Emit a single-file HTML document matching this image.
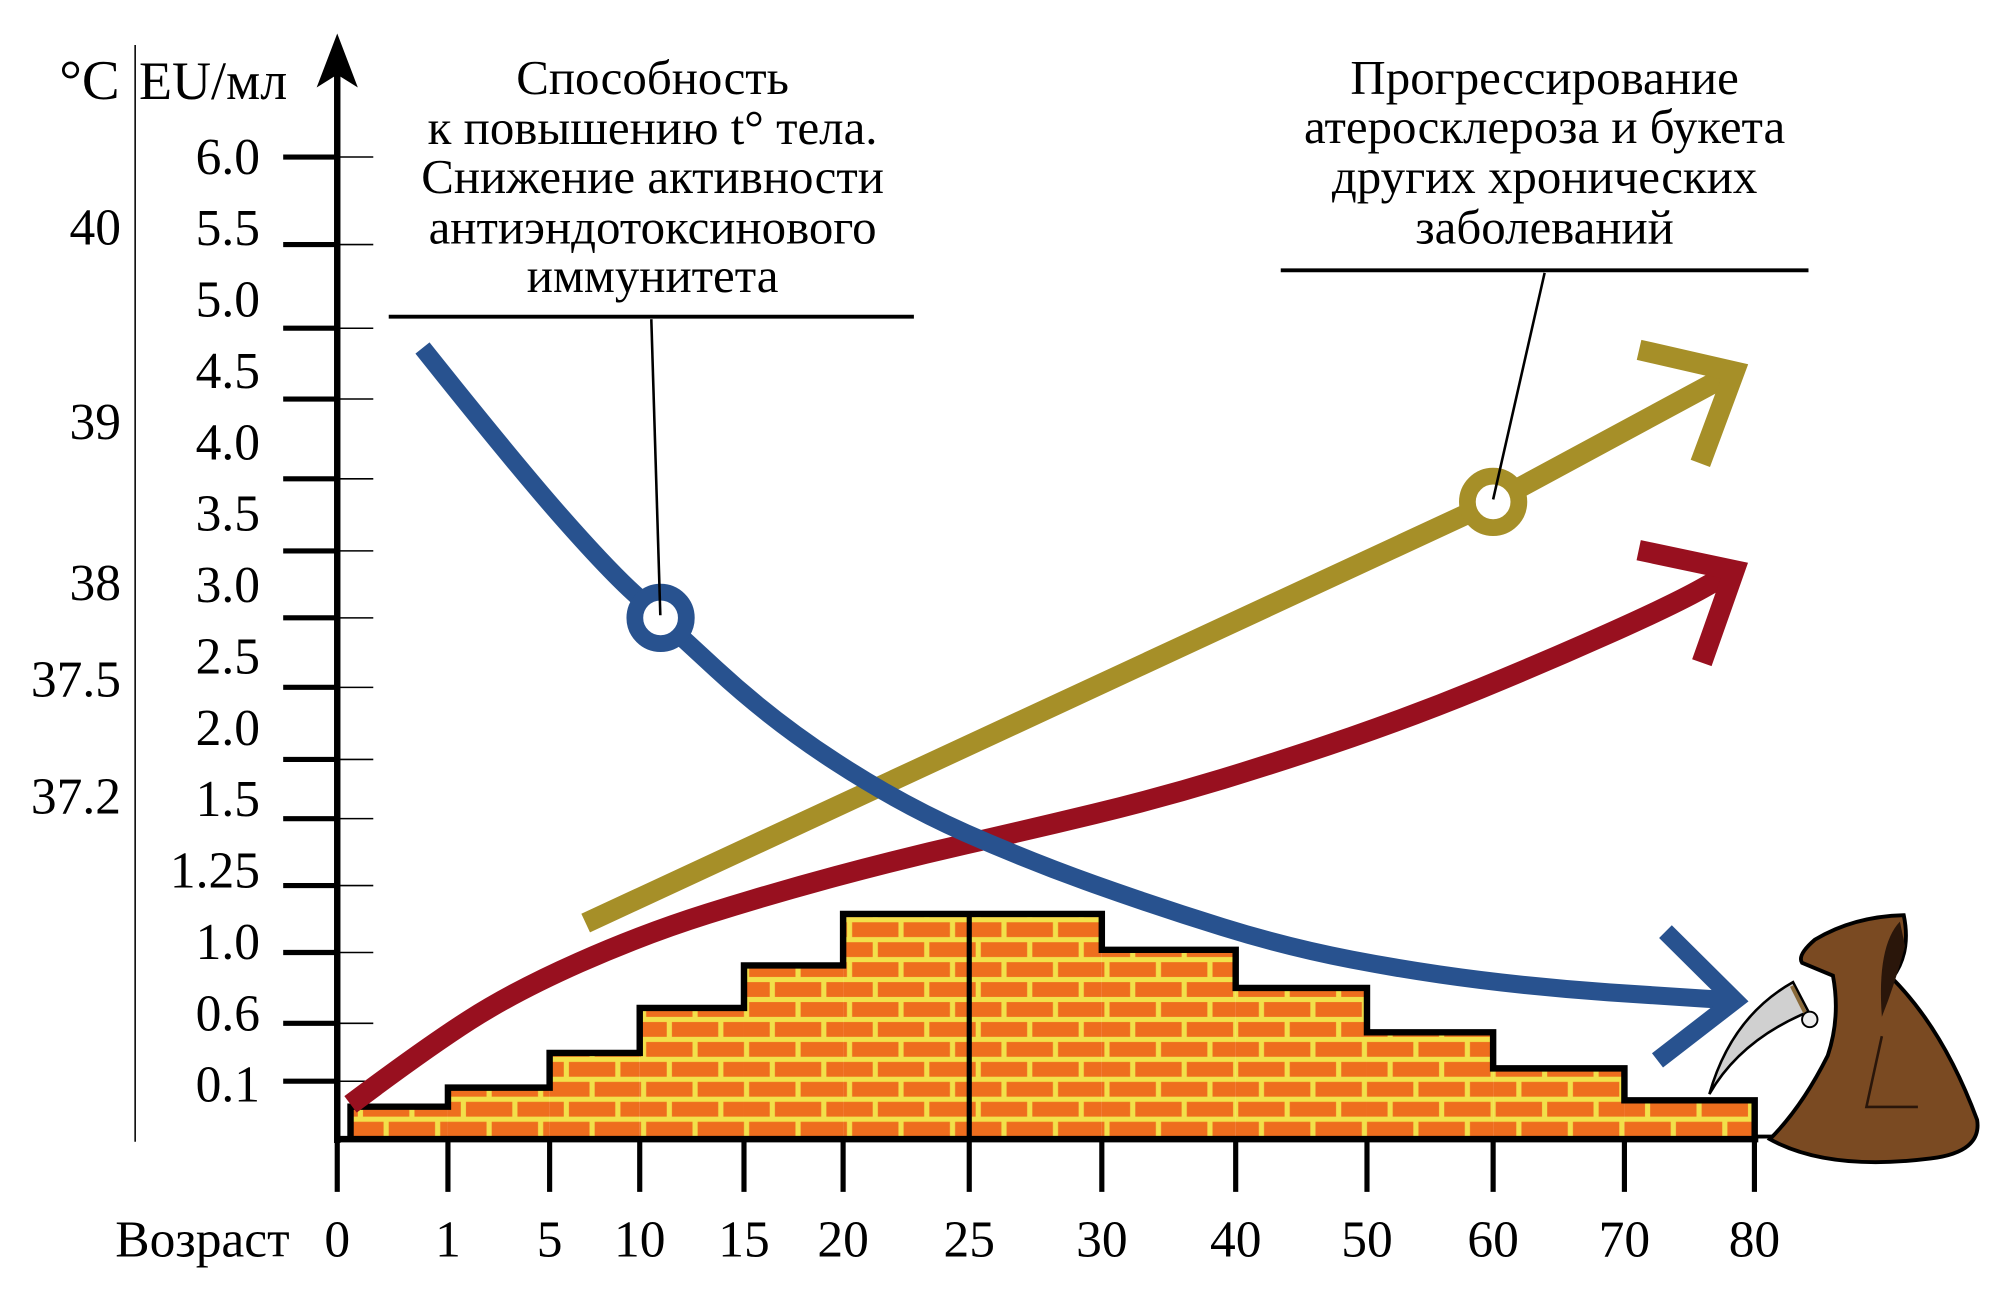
<!DOCTYPE html>
<html><head><meta charset="utf-8"><style>
html,body{margin:0;padding:0;background:#fff;}
svg{display:block;}
text{font-family:"Liberation Serif",serif;fill:#000;}
</style></head><body>
<svg id="chart" width="2008" height="1294" viewBox="0 0 1560 1005.3" xmlns="http://www.w3.org/2000/svg">
<defs>
<pattern id="bricks" patternUnits="userSpaceOnUse" width="40" height="31" x="0" y="885">
<rect width="40" height="31" fill="#f2e04a"/>
<rect x="2" y="2" width="36" height="11.5" fill="#ee6e1e"/>
<rect x="-18" y="17.5" width="36" height="11.5" fill="#ee6e1e"/>
<rect x="22" y="17.5" width="36" height="11.5" fill="#ee6e1e"/>
</pattern>
</defs>
<g id="bars"></g>
<g id="axes"></g>
<g id="curves"></g>
<g id="notes">
<text font-size="38" text-anchor="middle">
<tspan x="507" y="73">Способность</tspan><tspan x="507" y="112">к повышению t° тела.</tspan><tspan x="507" y="150">Снижение активности</tspan><tspan x="507" y="189">антиэндотоксинового</tspan><tspan x="507" y="227">иммунитета</tspan></text>
<line x1="302" y1="246" x2="710" y2="246" stroke="#000" stroke-width="3"/>
<line x1="506" y1="248" x2="513" y2="478" stroke="#000" stroke-width="2"/>
<text font-size="38" text-anchor="middle">
<tspan x="1200" y="73">Прогрессирование</tspan><tspan x="1200" y="111">атеросклероза и букета</tspan><tspan x="1200" y="150">других хронических</tspan><tspan x="1200" y="189">заболеваний</tspan></text>
<line x1="995" y1="210" x2="1405" y2="210" stroke="#000" stroke-width="3"/>
<line x1="1200" y1="212" x2="1160" y2="388" stroke="#000" stroke-width="2"/>
</g>
<g id="reaper">
<line x1="1363" y1="883" x2="1390" y2="883" stroke="#000" stroke-width="3"/>
<path d="M1393,763 Q1345,790 1328,850 Q1352,808 1405,786 Z" fill="#d0d0d0" stroke="#000" stroke-width="2"/>
<line x1="1392" y1="766" x2="1404" y2="790" stroke="#8a6a3a" stroke-width="3"/>
<path d="M1479,711 Q1440,712 1410,730 Q1396,742 1400,748 L1424,758 Q1430,790 1420,820 Q1400,860 1375,885 Q1420,910 1500,900 Q1540,895 1536,870 Q1510,800 1470,760 Q1485,740 1479,711 Z" fill="#7a4a22" stroke="#000" stroke-width="3"/>
<path d="M1476,716 Q1458,735 1462,790 Q1472,765 1480,735 Z" fill="#2a160a"/>
<path d="M1462,805 L1450,860 L1490,860" fill="none" stroke="#2a160a" stroke-width="2"/>
<circle cx="1406" cy="792" r="6" fill="#eee" stroke="#000" stroke-width="1.5"/>
</g>
</svg>
<script>
const NS="http://www.w3.org/2000/svg";
const ageTicks=[0,1,5,10,15,20,25,30,40,50,60,70,80];
const agePx=[262,348,427,497,578,655,753,856,960,1062,1160,1262,1363];
const euTicks=[0,0.1,0.6,1.0,1.25,1.5,2.0,2.5,3.0,3.5,4.0,4.5,5.0,5.5,6.0];
const euPx=[885,840,795,740,688,636,590,534,480,428,372,310,255,190,122];
const euLabels=["6.0","5.5","5.0","4.5","4.0","3.5","3.0","2.5","2.0","1.5","1.25","1.0","0.6","0.1"];
const celsiusLabels=["40","39","38","37.5","37.2"];
const celsiusLabelY=[177,328,453,528,619];
const barStartAges=[0.12,1,5,10,15,20,25,30,40,50,60,70];
const barEndAges=[1,5,10,15,20,25,30,40,50,60,70,80.02];
const barValues=[0.056,0.089,0.344,0.687,0.927,1.144,1.144,1.01,0.80,0.522,0.211,0.067];
const blueAges=[0.77,3.6,8.1,11.0,16.4,22.3,27.3,34.2,43.9,53.9,63.9,73.8,78.2];
const blueValues=[4.86,4.1,3.38,3.0,2.27,1.62,1.34,1.17,1.02,0.89,0.80,0.75,0.73];
const goldAges=[7.0,60,78.2];
const goldValues=[1.11,3.84,4.68];
const redAges=[0.12,0.79,3.6,10.2,16.4,22.3,27.3,34.2,43.9,53.9,63.9,73.8,78.2];
const redValues=[0.06,0.38,0.78,1.07,1.22,1.35,1.46,1.67,2.0,2.31,2.68,3.1,3.34];
function interp(v,ks,ps){for(let i=0;i<ks.length-1;i++){if(v<=ks[i+1]||i===ks.length-2){const t=(v-ks[i])/(ks[i+1]-ks[i]);return ps[i]+t*(ps[i+1]-ps[i]);}}}
const xs=a=>interp(a,ageTicks,agePx);
const ys=v=>interp(v,euTicks,euPx);
function mk(tag,attrs,parent){const e=document.createElementNS(NS,tag);for(const k in attrs)e.setAttribute(k,attrs[k]);parent.appendChild(e);return e;}
const bars=document.getElementById('bars'),axes=document.getElementById('axes'),curves=document.getElementById('curves');
let outline="";
barValues.forEach((v,i)=>{
 const x0=xs(barStartAges[i]),x1=xs(barEndAges[i]),y=ys(v);
 const r=mk('rect',{x:x0,y:y,width:x1-x0,height:885-y,fill:'url(#bricks)'},bars);
 
 
 outline+=(i===0?"M"+x0+",885 L"+x0+","+y:" L"+x0+","+y)+" L"+x1+","+y;
});
outline+=" L"+xs(barEndAges[barEndAges.length-1])+",885";
const ol=mk('path',{d:outline,fill:'none',stroke:'#000','stroke-width':5},bars);


const mid=mk('line',{x1:xs(25),y1:ys(barValues[5]),x2:xs(25),y2:885,stroke:'#000','stroke-width':4},bars);


const ca=mk('line',{x1:105,y1:35,x2:105,y2:887,stroke:'#000','stroke-width':1.2},axes);


const ya=mk('line',{x1:262,y1:50,x2:262,y2:888,stroke:'#000','stroke-width':5},axes);


const ah=mk('path',{d:'M262,26 L278,68 L262,58 L246,68 Z',fill:'#000'},axes);


const xa=mk('line',{x1:260,y1:885,x2:1366,y2:885,stroke:'#000','stroke-width':5},axes);


euTicks.slice(1).forEach(v=>{
 const y=ys(v);
 const t=mk('line',{x1:220,y1:y,x2:262,y2:y,stroke:'#000','stroke-width':4},axes);
 
 
 const t2=mk('line',{x1:262,y1:y,x2:290,y2:y,stroke:'#000','stroke-width':1.2},axes);
 
 
});
euLabels.forEach((s,i)=>{
 const t=mk('text',{x:202,y:122+i*55.45+13,'font-size':40,'text-anchor':'end'},axes);
 t.textContent=s;
 
 
});
celsiusLabels.forEach((s,i)=>{
 const t=mk('text',{x:94,y:celsiusLabelY[i]+13,'font-size':40,'text-anchor':'end'},axes);
 t.textContent=s;
 
 
});
const cu=mk('text',{x:46,y:77,'font-size':44},axes);cu.textContent='°C';


const eu=mk('text',{x:108,y:77,'font-size':42},axes);eu.textContent='EU/мл';


ageTicks.forEach(a=>{
 const x=xs(a);
 const t=mk('line',{x1:x,y1:885,x2:x,y2:926,stroke:'#000','stroke-width':4},axes);
 
 
 const l=mk('text',{x:x,y:976,'font-size':40,'text-anchor':'middle'},axes);
 l.textContent=String(a);
 
 
});
const xt=mk('text',{x:225,y:976,'font-size':40,'text-anchor':'end'},axes);xt.textContent='Возраст';


function curve(ages,vals,color,w,name){
 const pts=ages.map((a,i)=>[xs(a),ys(vals[i])]);
 let d="M"+pts[0][0]+","+pts[0][1];
 for(let i=1;i<pts.length;i++){
  if(pts.length>3&&i<pts.length-1){const mx=(pts[i][0]+pts[i+1][0])/2,my=(pts[i][1]+pts[i+1][1])/2;d+=" Q"+pts[i][0]+","+pts[i][1]+" "+mx+","+my;}
  else d+=" L"+pts[i][0]+","+pts[i][1];
 }
 const p=mk('path',{d:d,fill:'none',stroke:color,'stroke-width':w},curves);
 
 
 const n=pts.length,e=pts[n-1],b=pts[n-2];
 const ang=Math.atan2(e[1]-b[1],e[0]-b[0]);
 const tip=[e[0]+3*Math.cos(ang),e[1]+3*Math.sin(ang)];
 const L=76,s=0.72;
 const p1=[tip[0]-L*Math.cos(ang-s),tip[1]-L*Math.sin(ang-s)];
 const p2=[tip[0]-L*Math.cos(ang+s),tip[1]-L*Math.sin(ang+s)];
 const hd=mk('path',{d:"M"+p1+" L"+tip+" L"+p2,fill:'none',stroke:color,'stroke-width':w,'stroke-linejoin':'miter'},curves);
 
 
}
curve(redAges,redValues,'#98101f',16,'red');
curve(goldAges,goldValues,'#a68f28',16,'gold');
curve(blueAges,blueValues,'#28528f',14,'blue');
const bc=mk('circle',{cx:xs(blueAges[3]),cy:ys(blueValues[3]),r:20,fill:'#fff',stroke:'#28528f','stroke-width':13},curves);


const gc=mk('circle',{cx:xs(goldAges[1]),cy:ys(goldValues[1]),r:20,fill:'#fff',stroke:'#a68f28','stroke-width':13},curves);


document.getElementById('chart').appendChild(document.getElementById('notes'));
</script>
</body></html>
